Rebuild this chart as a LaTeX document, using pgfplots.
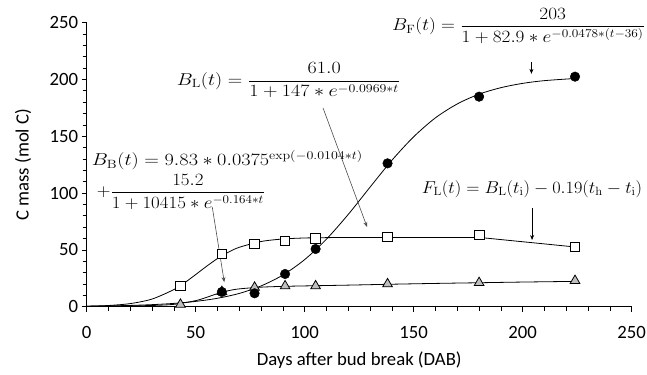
\documentclass[border=0pt]{standalone}
\usepackage{amsmath}
\usepackage{graphicx}
\usepackage[no-math]{fontspec}
\setmainfont{Carlito}
\usepackage{pgfplots}
\pgfplotsset{compat=1.18}
\usetikzlibrary{arrows.meta}
\pgfplotstableread{
t y
43 18.2
62 46.4
77 55.2
91 57.8
105 60.2
138 61.6
180 63.1
224 52.8
}\leaves
\pgfplotstableread{
t y
43 2.0
62 13.2
77 17.0
91 18.2
105 18.2
138 20.0
180 21.1
224 22.9
}\bud
\pgfplotstableread{
t y
62 13.0
77 11.8
91 28.8
105 50.8
138 126.2
180 184.9
224 202.5
}\fruit
\begin{document}
\begin{tikzpicture}[x=1bp,y=1bp]
\begin{axis}[
  at={(0,0)}, anchor=south west,
  scale only axis, width=545bp, height=284bp,
  xmin=0, xmax=250, ymin=0, ymax=250,
  axis x line*=bottom, axis y line*=left,
  axis line style={black, line width=0.8bp},
  xtick={0,50,...,250}, ytick={0,50,...,250},
  minor x tick num=4, minor y tick num=4,
  tick align=outside, major tick length=5bp, minor tick length=4bp,
  tick style={black, line width=0.8bp},
  ticklabel style={font=\fontsize{18.8}{20}\selectfont},
  xticklabel style={yshift=-11bp},
  /pgf/number format/assume math mode=true,
  label style={font=\fontsize{18.8}{20}\selectfont},
  xlabel={Days after bud break (DAB)},
  ylabel={C mass (mol C)},
  xlabel style={at={(axis description cs:0.5,-0.1877)}, anchor=center},
  ylabel style={at={(axis description cs:-0.1169,0.5)}, anchor=center},
  clip=false,
]
% fitted curves
\addplot[black, line width=0.8bp, smooth] coordinates {
(0,0.44) (10,0.70) (20,1.13) (30,1.82) (40,2.92) (50,4.67) (60,7.43) (70,11.7)
(80,18.3) (90,27.9) (100,41.5) (110,59.5) (120,81.3) (130,105.3) (140,128.9)
(150,149.6) (160,166.3) (170,178.5) (180,187.1) (190,192.8) (200,196.6) (210,199.0) (224,200.9)};
\addplot[black, line width=0.8bp, smooth] coordinates {
(0,0.37) (10,0.52) (20,0.72) (30,1.09) (40,2.09) (50,5.33) (55,8.27) (60,11.5) (65,14.1)
(70,15.7) (80,17.2) (90,17.9) (100,18.3) (120,19.0) (140,19.8) (160,20.5) (180,21.1) (200,21.7) (224,22.3)};
\addplot[black, line width=0.8bp, smooth] coordinates {
(0,0.41) (10,1.07) (20,2.75) (30,6.76) (40,15.1) (45,21.2) (50,28.3) (55,35.6) (60,42.4)
(65,48.0) (70,52.3) (80,57.4) (90,59.6) (100,60.5) (110,60.8) (120,60.9) (140,61.0) (160,61.0) (180,61.0)};
\addplot[black, line width=0.8bp] coordinates {(180,61.0) (224,52.6)};
% observations
\addplot[only marks, mark=square*, mark size=4.8bp, mark options={fill=white, draw=black, line width=0.8bp}] table[x=t,y=y] {\leaves};
\addplot[only marks, mark=triangle*, mark size=5.6bp, mark options={fill=black!25, draw=black, line width=0.8bp}] table[x=t,y=y] {\bud};
\addplot[only marks, mark=*, mark size=4.8bp, mark options={fill=black, draw=black}] table[x=t,y=y] {\fruit};
% annotations
\draw[-{Stealth[length=5bp,width=4bp]}, black, line width=0.6bp] (axis cs:204,215) -- (axis cs:204,205);
\draw[-{Stealth[length=5bp,width=4bp]}, black!70, line width=0.6bp] (axis cs:108.4,175) -- (axis cs:128.6,70.2);
\draw[-{Stealth[length=5bp,width=4bp]}, black!70, line width=0.6bp] (axis cs:57.6,87.7) -- (axis cs:63.1,21.7);
\draw[-{Stealth[length=5bp,width=4bp]}, black, line width=0.6bp] (axis cs:204.3,86.7) -- (axis cs:204.3,58.7);
\node[font=\fontsize{17.8}{20}\selectfont, inner sep=0pt, anchor=base west] at (axis cs:140,243)
  {\scalebox{1.116}[1]{$B_{\mathrm{F}}(t) = \dfrac{203}{1+82.9*e^{-0.0478*(t-36)}}$}};
\node[font=\fontsize{17.8}{20}\selectfont, inner sep=0pt, anchor=base west] at (axis cs:41.3,195)
  {\scalebox{1.167}[1]{$B_{\mathrm{L}}(t) = \dfrac{61.0}{1+147*e^{-0.0969*t}}$}};
\node[font=\fontsize{17.8}{20}\selectfont, inner sep=0pt, anchor=base west] at (axis cs:2.3,123.9)
  {\scalebox{1.177}[1]{$B_{\mathrm{B}}(t) = 9.83*0.0375^{\exp(-0.0104*t)}$}};
\node[font=\fontsize{17.8}{20}\selectfont, inner sep=0pt, anchor=base west] at (axis cs:4.6,96.6)
  {\scalebox{1.10}[1]{$+\dfrac{15.2}{1+10415*e^{-0.164*t}}$}};
\node[font=\fontsize{17.8}{20}\selectfont, inner sep=0pt, anchor=base west] at (axis cs:153.7,100)
  {\scalebox{1.063}[1]{$F_{\mathrm{L}}(t) = B_{\mathrm{L}}(t_{\mathrm{i}})- 0.19(t_{\mathrm{h}} - t_{\mathrm{i}})$}};
\end{axis}
\pgfresetboundingbox
\path (-86.7,-67.3) rectangle (560.3,306.7);
\end{tikzpicture}
\end{document}
